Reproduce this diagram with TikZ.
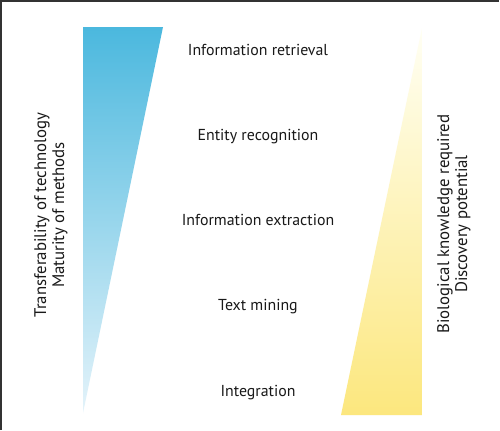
\documentclass[tikz,border=0pt]{standalone}
\usepackage{fontspec}
\setmainfont{PT Sans}
\definecolor{bluetop}{HTML}{4BB8DE}
\definecolor{bluebot}{HTML}{E4F3FA}
\definecolor{yeltop}{HTML}{FFFFF4}
\definecolor{yelbot}{HTML}{FCE77E}
\definecolor{frame}{HTML}{333333}
\begin{document}
\begin{tikzpicture}[x=0.75pt,y=-0.75pt,
  lbl/.style={font=\fontsize{11.9}{14}\selectfont, inner sep=0pt, text=black!90},
  side/.style={font=\fontsize{12.6}{13.5}\selectfont, inner sep=0pt, rotate=90, align=center, text=black!90}]
\useasboundingbox (0,0) rectangle (500,430);
\fill[white] (0,0) rectangle (500,430);
\draw[frame, line width=1.5pt] (1,430) -- (1,1) -- (499,1);
\shade[top color=bluetop, bottom color=bluebot] (83,27) -- (163,27) -- (83,413) -- cycle;
\shade[top color=yeltop, bottom color=yelbot] (422,28) -- (422,415) -- (341,415) -- cycle;
\node[lbl] (ir) at (258,50) {Information retrieval};
\node[lbl] (er) at (258,137) {Entity recognition};
\node[lbl] (ie) at (258,220) {Information extraction};
\node[lbl] (tm) at (258,307) {Text mining};
\node[lbl] (ig) at (258,393) {Integration};
\node[side] (left) at (51,215) {Transferability of technology\\Maturity of methods};
\node[side] (right) at (454,224) {Biological knowledge required\\Discovery potential};
\end{tikzpicture}
\end{document}
